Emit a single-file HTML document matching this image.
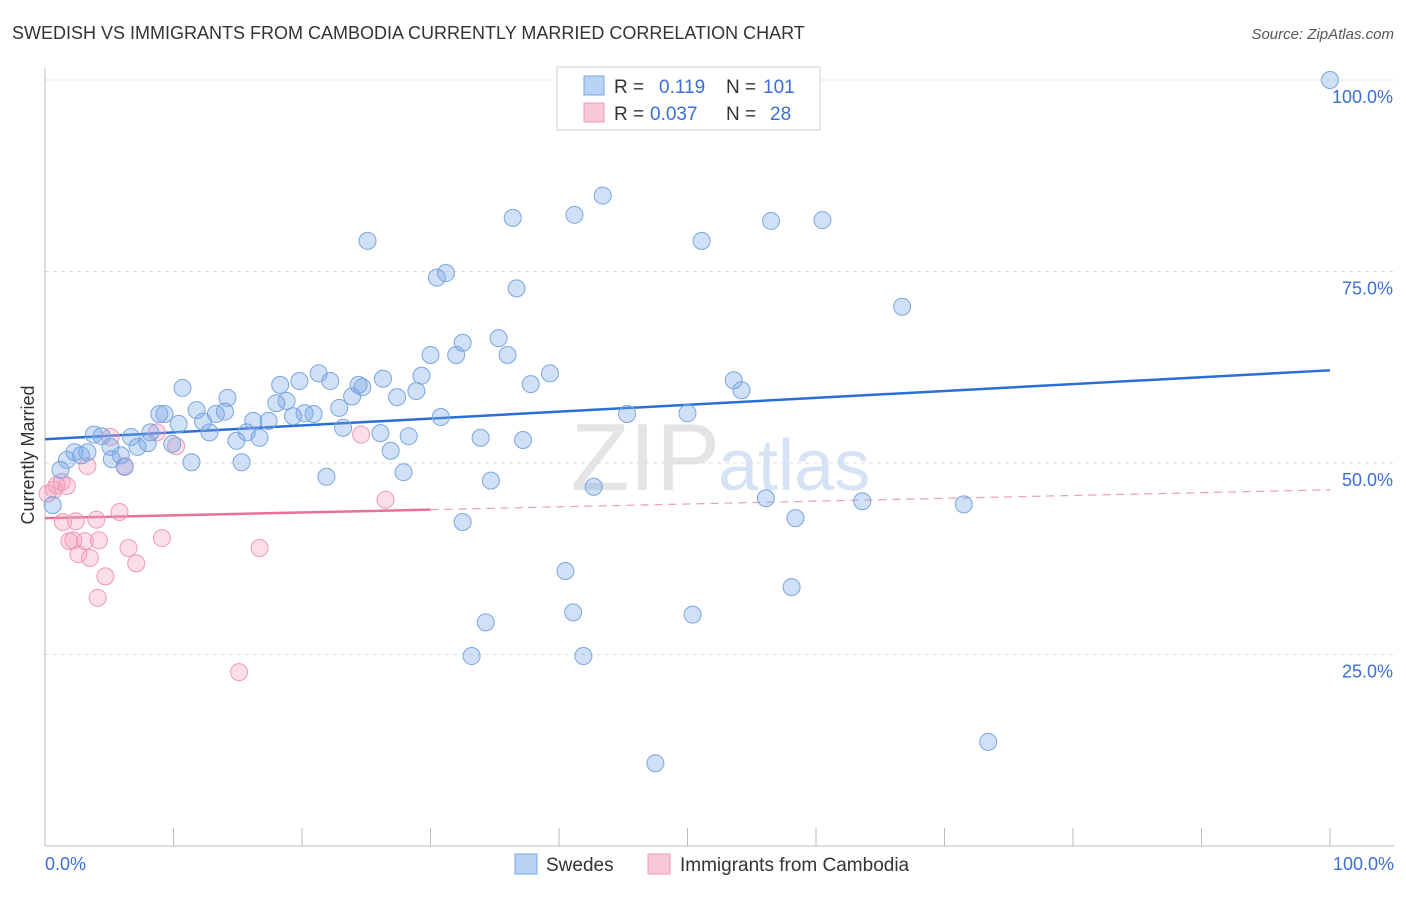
<!DOCTYPE html>
<html><head><meta charset="utf-8"><style>
body{margin:0;background:#fff;font-family:"Liberation Sans",sans-serif;}
svg text{font-family:"Liberation Sans",sans-serif;}
</style></head><body>
<svg id="chart" width="1406" height="892">
<text x="12" y="39" font-size="18" fill="#333">SWEDISH VS IMMIGRANTS FROM CAMBODIA CURRENTLY MARRIED CORRELATION CHART</text>
<text x="1394" y="39" font-size="15" fill="#555" text-anchor="end" font-style="italic">Source: ZipAtlas.com</text>
<text x="720" y="490" font-size="96" fill="#e4e4e4" text-anchor="end" font-family="Liberation Serif">ZIP</text>
<text x="718" y="490" font-size="72" fill="#d6e3f5">atlas</text>
<g id="grid"></g><g id="axes"></g><g id="lines"></g><g id="pts"></g>
<text transform="translate(34,455) rotate(-90)" font-size="18" fill="#333" text-anchor="middle">Currently Married</text>
<text x="45" y="870" font-size="18" fill="#3b6fd6">0.0%</text>
<text x="1394" y="870" font-size="18" fill="#3b6fd6" text-anchor="end">100.0%</text>
<g>
<rect x="557" y="67" width="263" height="63" fill="#fff" stroke="#ccc"/>
<rect x="584" y="76" width="20" height="19" fill="#b9d3f5" stroke="#7aa6e0"/>
<rect x="584" y="103" width="20" height="19" fill="#f9c8d7" stroke="#ee9ab5"/>
<text x="614" y="93" font-size="19" fill="#333">R = </text><text x="659" y="93" font-size="19" fill="#3b6fd6">0.119</text>
<text x="726" y="93" font-size="19" fill="#333">N = </text><text x="763" y="93" font-size="19" fill="#3b6fd6">101</text>
<text x="614" y="120" font-size="19" fill="#333">R = </text><text x="650" y="120" font-size="19" fill="#3b6fd6">0.037</text>
<text x="726" y="120" font-size="19" fill="#333">N = </text><text x="770" y="120" font-size="19" fill="#3b6fd6">28</text>
</g>
<g>
<rect x="515" y="854" width="22" height="20" fill="#b9d3f5" stroke="#7aa6e0"/>
<text x="546" y="871" font-size="19" fill="#333">Swedes</text>
<rect x="648" y="854" width="22" height="20" fill="#f9c8d7" stroke="#ee9ab5"/>
<text x="680" y="871" font-size="19" fill="#333">Immigrants from Cambodia</text>
</g>
</svg>
<script>
const yTicks=[25,50,75,100];
const yTickLabels=["25.0%","50.0%","75.0%","100.0%"];
const xTicks=[0,10,20,30,40,50,60,70,80,90,100];
const blueX=[100,46.8,43.4,41.2,36.4,56.5,60.5,25.1,51.1,31.2,30.5,36.7,66.7,35.3,32.5,30.0,32.0,36.0,39.3,29.3,26.3,21.3,19.8,22.2,18.3,10.7,24.4,24.7,37.8,53.6,54.2,14.2,27.4,28.9,23.9,18.8,18.0,11.8,22.9,8.9,9.3,13.3,14.0,20.9,19.3,20.2,30.8,45.3,50.0,10.4,12.3,16.2,17.4,23.2,12.8,8.2,15.7,6.7,3.8,4.4,26.1,28.3,33.9,37.2,14.9,16.7,9.9,8.0,5.1,7.2,26.9,3.3,2.3,2.8,1.7,5.2,5.9,11.4,15.3,6.2,27.9,21.9,34.7,42.7,1.2,0.6,56.1,63.6,71.5,58.4,32.5,40.5,58.1,41.1,50.4,34.3,33.2,41.9,73.4,47.5];
const blueY=[100,100,84.9,82.4,82.0,81.6,81.7,79.0,79.0,74.8,74.2,72.8,70.4,66.3,65.7,64.1,64.1,64.1,61.7,61.4,61.0,61.7,60.7,60.7,60.2,59.8,60.2,59.9,60.3,60.8,59.5,58.5,58.6,59.4,58.7,58.1,57.8,56.9,57.2,56.4,56.4,56.4,56.7,56.4,56.1,56.5,56.0,56.4,56.5,55.1,55.4,55.5,55.5,54.6,54.0,54.0,54.0,53.4,53.7,53.5,53.9,53.5,53.3,53.0,52.9,53.3,52.5,52.6,52.1,52.1,51.6,51.4,51.4,51.0,50.4,50.5,51.0,50.1,50.1,49.5,48.8,48.2,47.7,46.9,49.1,44.5,45.4,45.0,44.6,42.8,42.3,35.9,33.8,30.5,30.2,29.2,24.8,24.8,13.6,10.8];
const pinkX=[0.7,0.9,1.3,1.7,0.2,1.4,2.4,4.0,5.8,6.2,5.1,8.7,10.2,3.3,1.9,2.2,3.1,4.2,2.6,3.5,6.5,9.1,4.7,7.1,4.1,16.7,26.5,24.6,15.1];
const pinkY=[46.5,47.1,47.5,47.0,46.0,42.3,42.4,42.6,43.6,49.6,53.4,54.0,52.2,49.6,39.8,39.9,39.8,39.9,38.1,37.6,38.9,40.2,35.2,36.9,32.4,38.9,45.2,53.7,22.7];
const blueTrend=[53.1,62.1];
const pinkTrend=[42.8,46.5];
const pinkSolidEnd=30;
const ns="http://www.w3.org/2000/svg";
function sx(v){return 45+v*12.85;}
function sy(v){return 846-v*7.66;}
function mk(tag,attrs,parent){const e=document.createElementNS(ns,tag);for(const k in attrs)e.setAttribute(k,attrs[k]);document.getElementById(parent).appendChild(e);return e;}
yTicks.forEach((t,i)=>{
 const l=mk('line',{x1:45,x2:1394,y1:sy(t),y2:sy(t),stroke:'#ddd','stroke-dasharray':'4,4'},'grid');
 
 
 const tx=mk('text',{x:1393,y:sy(t)+23,'font-size':18,fill:'#3b6fd6','text-anchor':'end'},'grid');
 tx.textContent=yTickLabels[i];
 
 
});
const ax=mk('line',{x1:45,x2:1394,y1:846,y2:846,stroke:'#bbb'},'axes');


const ay=mk('line',{x1:45,x2:45,y1:68,y2:846,stroke:'#bbb'},'axes');


xTicks.forEach(t=>{
 const l=mk('line',{x1:sx(t),x2:sx(t),y1:828,y2:846,stroke:'#bbb'},'axes');
 
 
});
function dot(x,y,fill,stroke,name){
 const c=mk('circle',{cx:sx(x),cy:sy(y),r:8.5,fill:fill,stroke:stroke,'stroke-width':1},'pts');
 
 
}
pinkX.forEach((x,i)=>dot(x,pinkY[i],'rgba(244,160,190,0.35)','#ee9ab5','cambodia-point'));
blueX.forEach((x,i)=>dot(x,blueY[i],'rgba(120,165,230,0.35)','#7aa6e0','swedes-point'));
const bt=mk('line',{x1:sx(0),y1:sy(blueTrend[0]),x2:sx(100),y2:sy(blueTrend[1]),stroke:'#2a6fd6','stroke-width':2.5},'lines');


const pm=pinkTrend[0]+(pinkTrend[1]-pinkTrend[0])*pinkSolidEnd/100;
const pt=mk('line',{x1:sx(0),y1:sy(pinkTrend[0]),x2:sx(pinkSolidEnd),y2:sy(pm),stroke:'#e8709a','stroke-width':2.5},'lines');


const pd=mk('line',{x1:sx(pinkSolidEnd),y1:sy(pm),x2:sx(100),y2:sy(pinkTrend[1]),stroke:'#e8a0b8','stroke-width':1.2,'stroke-dasharray':'8,6'},'lines');


</script>
</body></html>
